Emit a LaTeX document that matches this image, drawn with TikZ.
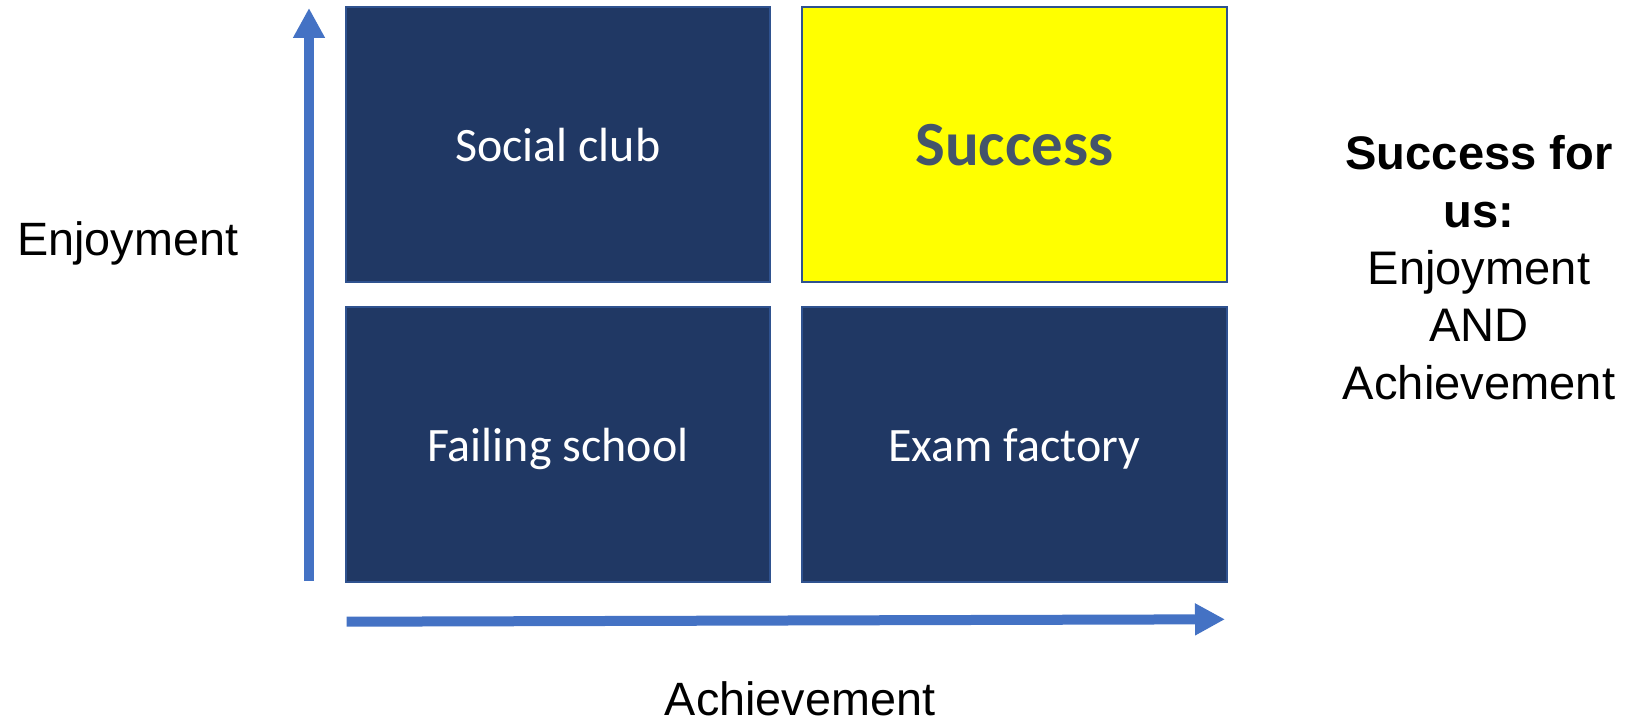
\documentclass[tikz,border=0pt]{standalone}
\usepackage{fontspec}
\setmainfont{Liberation Sans}
\newfontfamily\calibrifont{Carlito}
\usepackage{xcolor}
\usepackage{tikz}
\usetikzlibrary{arrows.meta, positioning}

\definecolor{navy_fill}{HTML}{203864}
\definecolor{box_line}{HTML}{2F528F}
\definecolor{axis_blue}{HTML}{4472C4}
\definecolor{slate_text}{HTML}{44546A}
\definecolor{bright_yellow}{RGB}{255,255,0}

\begin{document}
\begin{tikzpicture}[
        % Define common styles for the quadrant boxes
        quad_box/.style={rectangle, draw=box_line, line width=0.6pt, fill=navy_fill, text=white,
                         minimum width=4.243cm, minimum height=2.753cm, inner sep=0pt, outer sep=0pt,
                         font=\calibrifont\fontsize{13.65}{16}\selectfont, text height=13.2pt, text depth=3.4pt},
        goal_box/.style={quad_box, fill=bright_yellow, text=slate_text,
                         font=\calibrifont\bfseries\fontsize{17.9}{21}\selectfont, text height=16.5pt, text depth=4.4pt},
        axis_label/.style={font=\fontsize{13.3}{16}\selectfont, inner sep=0pt, anchor=base},
        axis_arrow/.style={draw=axis_blue, line width=0.1cm, -{Triangle[length=0.3cm, width=0.3cm]}, color=axis_blue},
    ]
    \useasboundingbox (0,0) rectangle (16.25,7.21);

    % The four quadrants
    \node (social) [quad_box, anchor=north west] at (3.457,7.14) {Social club};
    \node (success) [goal_box, right=0.323cm of social] {Success};
    \node (failing) [quad_box, below=0.244cm of social] {Failing school};
    \node (exam) [quad_box, below=0.244cm of success] {Exam factory};

    % Axes
    \coordinate (y_start) at (3.09,1.40);
    \coordinate (y_end) at (3.09,7.13);
    \coordinate (x_start) at (3.467,0.993);
    \coordinate (x_end) at (12.25,1.017);
    \draw[axis_arrow] (y_start) -- (y_end);
    \draw[axis_arrow] (x_start) -- (x_end);

    % Axis labels
    \node (enjoy_label) [axis_label] at (1.278,4.66) {Enjoyment};
    \node (achieve_label) [axis_label] at (8.00,0.06) {Achievement};

    % Right hand note (base anchor sits on the last line)
    \node (note) [axis_label, align=center, font=\fontsize{13.4}{16.3}\selectfont] at (14.79,3.22)
        {\textbf{Success for}\\ \textbf{us:}\\ Enjoyment\\ AND\\ Achievement};

\end{tikzpicture}
\end{document}
